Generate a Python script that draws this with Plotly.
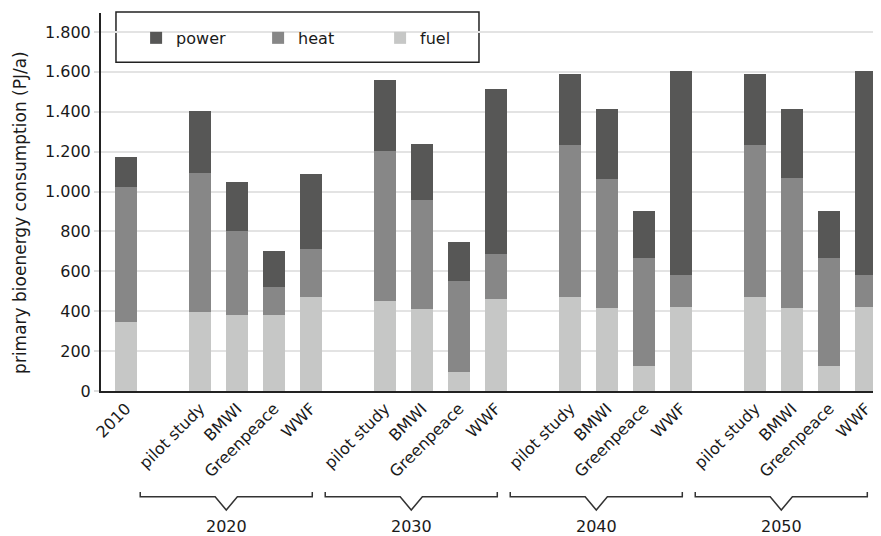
import plotly.graph_objects as go

# ---- data ----
groups = ["2010", "2020", "2030", "2040", "2050"]
group_items = [
    ["2010"],
    ["pilot study", "BMWI", "Greenpeace", "WWF"],
    ["pilot study", "BMWI", "Greenpeace", "WWF"],
    ["pilot study", "BMWI", "Greenpeace", "WWF"],
    ["pilot study", "BMWI", "Greenpeace", "WWF"],
]
fuel = [347, 397, 381, 381, 471, 451, 411, 95, 461, 471, 416, 125, 421, 471, 416, 125, 421]
heat = [678, 694, 421, 141, 241, 753, 547, 457, 226, 763, 647, 542, 161, 763, 652, 542, 161]
power = [150, 314, 248, 180, 376, 356, 281, 195, 827, 356, 351, 236, 1023, 356, 346, 236, 1023]

colors = {"power": "#575756", "heat": "#878787", "fuel": "#c6c7c6"}
FONT = "DejaVu Sans"
TXT = "#1a1a1a"

# positions: one empty slot between groups
xpos, labels, spans = [], [], []
p = 0
for gi, items in enumerate(group_items):
    if gi > 0:
        p += 1
    start = p
    for it in items:
        xpos.append(p)
        labels.append(it)
        p += 1
    spans.append((start, p - 1))

fig = go.Figure()
for name, vals in [("fuel", fuel), ("heat", heat), ("power", power)]:
    fig.add_trace(go.Bar(x=xpos, y=vals, name=name, marker_color=colors[name],
                         marker_line_width=0, width=0.6))

shapes = []
annotations = []
# brackets for multi-scenario groups
for g, (s, e) in zip(groups[1:], spans[1:]):
    x0 = s - 1.62
    x1 = e + 0.03
    xm = (x0 + x1) / 2
    hw = 0.3
    ytop, ybar, ytip = -0.267, -0.280, -0.315
    path = (f"M {x0},{ytop} L {x0},{ybar} L {xm - hw},{ybar} L {xm},{ytip} "
            f"L {xm + hw},{ybar} L {x1},{ybar} L {x1},{ytop}")
    shapes.append(dict(type="path", path=path, xref="x", yref="paper",
                       line=dict(color="#333333", width=1.5)))
    annotations.append(dict(x=xm, y=-0.358, xref="x", yref="paper", text=g,
                            showarrow=False, font=dict(family=FONT, size=16, color=TXT),
                            xanchor="center", yanchor="middle"))

# y-axis title
annotations.append(dict(x=-0.104, y=0.4735, xref="paper", yref="paper",
                        text="primary bioenergy consumption (PJ/a)", textangle=-90,
                        showarrow=False, xanchor="center", yanchor="middle",
                        font=dict(family=FONT, size=17, color=TXT)))

# legend frame
shapes.append(dict(type="rect", xref="paper", yref="paper", x0=0.0192, x1=0.4846,
                   y0=0.870, y1=1.0026, line=dict(color="#222222", width=1.5),
                   fillcolor="white", layer="below"))

fig.update_layout(
    width=873, height=528,
    margin=dict(l=93, r=0, t=5, b=145),
    barmode="stack",
    plot_bgcolor="white", paper_bgcolor="white",
    separators=",.",
    font=dict(family=FONT, size=16, color=TXT),
    showlegend=True,
    legend=dict(orientation="h", traceorder="reversed", x=0.045, y=0.934,
                xanchor="left", yanchor="middle", bgcolor="rgba(0,0,0,0)",
                borderwidth=0, entrywidth=77, entrywidthmode="pixels",
                font=dict(family=FONT, size=16, color=TXT)),
    shapes=shapes,
    annotations=annotations,
    xaxis=dict(range=[-0.68, 20.4], tickmode="array", tickvals=xpos, ticktext=labels,
               tickangle=-45, showgrid=False, showline=True, linecolor="#222222",
               linewidth=2, ticks="", zeroline=False,
               tickfont=dict(family=FONT, size=16, color=TXT)),
    yaxis=dict(range=[0, 1895], dtick=200, tickformat=",d", showgrid=True,
               gridcolor="#e3e3e3", gridwidth=1.5, showline=True, linecolor="#222222",
               linewidth=2, ticks="outside", ticklen=5, tickcolor="#dddddd", tickwidth=2,
               zeroline=False, tickfont=dict(family=FONT, size=16, color=TXT)),
)

fig.write_html("out.html")
